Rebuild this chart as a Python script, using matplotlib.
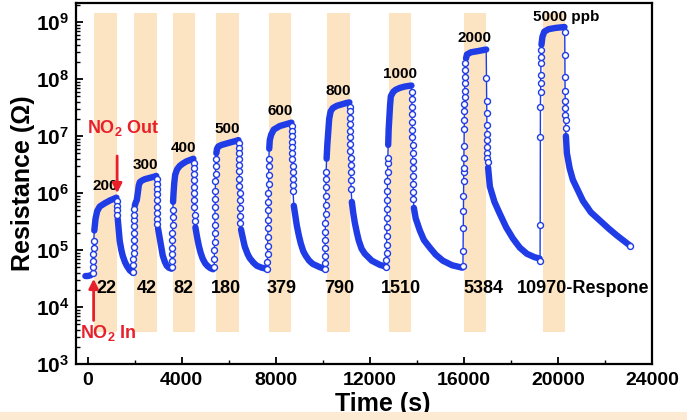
import numpy as np
import matplotlib.pyplot as plt
from matplotlib.ticker import MultipleLocator, LogLocator, FuncFormatter, NullFormatter
from matplotlib.patches import Rectangle

plt.rcParams['font.family'] = ['Liberation Sans', 'DejaVu Sans']
plt.rcParams['font.weight'] = 'bold'
plt.rcParams['mathtext.fontset'] = 'custom'
plt.rcParams['mathtext.rm'] = 'Liberation Sans:bold'
plt.rcParams['mathtext.it'] = 'Liberation Sans:bold'
plt.rcParams['mathtext.bf'] = 'Liberation Sans:bold'
plt.rcParams['mathtext.default'] = 'rm'

# NO2 on / off windows (s)
gas_on = [250, 1960, 3620, 5450, 7700, 10170, 12810, 16000, 19360]
gas_off = [1230, 2940, 4550, 6425, 8640, 11150, 13745, 16940, 20300]
conc_ppb = ['200', '300', '400', '500', '600', '800', '1000', '2000', '5000 ppb']
response = ['22', '42', '82', '180', '379', '790', '1510', '5384', '10970-Respone']

# points taken during the fast switching steps (sparse circles)
step_t = [230, 235, 240, 245, 250, 255,
          1230, 1236, 1242, 1248,
          1935, 1940, 1945, 1950, 1955, 1960, 1965, 1970, 1975, 1980, 1985,
          2925, 2930, 2935, 2940, 2945, 2950, 2955, 2960, 2965,
          3580, 3585, 3590, 3595, 3600, 3605, 3610, 3615, 3620,
          4505, 4510, 4515, 4520, 4525, 4530, 4535, 4540, 4545, 4550,
          5380, 5385, 5390, 5395, 5400, 5405, 5410, 5415, 5420, 5425, 5430, 5435, 5440, 5445,
          6420, 6425, 6430, 6435, 6440, 6445, 6450, 6455, 6460, 6465, 6470, 6475, 6480,
          7640, 7645, 7650, 7655, 7660, 7665, 7670, 7675, 7680, 7685, 7690, 7695, 7700, 7705,
          8675, 8680, 8685, 8690, 8695, 8700, 8705, 8710, 8715, 8720, 8725, 8730,
          10080, 10085, 10090, 10095, 10100, 10105, 10110, 10115, 10120, 10125, 10130, 10135, 10140,
          11140, 11145, 11150, 11155, 11160, 11165, 11170, 11175, 11180, 11185, 11190, 11195, 11200,
          12700, 12705, 12710, 12715, 12720, 12725, 12730, 12735, 12740, 12745, 12750, 12755, 12760, 12765,
          13780, 13785, 13790, 13795, 13800, 13805, 13810, 13815, 13820, 13825, 13830, 13835, 13840, 13845, 13850,
          15960, 15965, 15970, 15975, 15980, 15985, 15990, 15995, 16000, 16005,
          16010, 16015, 16020, 16025, 16030, 16035, 16040, 16045, 16050, 16055,
          16960, 16965, 16970, 16975, 16980, 16985, 16990, 16995, 17000, 17005,
          19240, 19245, 19250, 19255, 19260, 19265, 19270, 19275, 19280, 19285,
          20290, 20295, 20300, 20305, 20310, 20315, 20320, 20325, 20330]
step_R = [4.0e4, 5.0e4, 6.5e4, 8.5e4, 1.1e5, 1.45e5,
          7.2e5, 6.0e5, 5.0e5, 4.2e5,
          4.2e4, 5.5e4, 7.0e4, 9.0e4, 1.15e5, 1.5e5, 2.0e5, 2.6e5, 3.3e5, 4.2e5, 5.2e5,
          1.75e6, 1.45e6, 1.2e6, 9.5e5, 7.5e5, 5.8e5, 4.5e5, 3.5e5, 2.9e5,
          5.0e4, 6.5e4, 8.5e4, 1.1e5, 1.5e5, 2.0e5, 2.8e5, 3.8e5, 5.0e5,
          3.4e6, 2.8e6, 2.2e6, 1.7e6, 1.3e6, 1.0e6, 7.5e5, 5.6e5, 4.2e5, 3.2e5,
          5.0e4, 7.0e4, 1.0e5, 1.4e5, 2.0e5, 2.8e5, 4.0e5, 5.6e5, 8.0e5, 1.1e6, 1.6e6, 2.2e6, 3.0e6, 3.9e6,
          7.5e6, 6.2e6, 5.0e6, 4.0e6, 3.1e6, 2.4e6, 1.8e6, 1.35e6, 1.0e6, 7.5e5, 5.5e5, 4.0e5, 3.0e5,
          4.7e4, 6.2e4, 8.5e4, 1.2e5, 1.7e5, 2.4e5, 3.4e5, 5.0e5, 7.0e5, 1.0e6, 1.45e6, 2.1e6, 3.0e6, 4.0e6,
          1.5e7, 1.25e7, 1.0e7, 8.0e6, 6.3e6, 5.0e6, 3.9e6, 3.0e6, 2.3e6, 1.8e6, 1.4e6, 1.1e6,
          4.7e4, 6.0e4, 8.0e4, 1.1e5, 1.5e5, 2.1e5, 3.0e5, 4.3e5, 6.2e5, 9.0e5, 1.3e6, 1.8e6, 2.3e6,
          3.3e7, 2.7e7, 2.1e7, 1.6e7, 1.25e7, 9.5e6, 7.2e6, 5.5e6, 4.1e6, 3.1e6, 2.3e6, 1.7e6, 1.2e6,
          5.1e4, 6.8e4, 9.0e4, 1.25e5, 1.75e5, 2.5e5, 3.6e5, 5.2e5, 7.5e5, 1.1e6, 1.6e6, 2.3e6, 3.3e6, 4.2e6,
          6.0e7, 4.5e7, 3.3e7, 2.4e7, 1.75e7, 1.3e7, 9.5e6, 7.0e6, 5.0e6, 3.7e6, 2.7e6, 2.0e6, 1.45e6, 1.05e6, 8.0e5,
          5.3e4, 9.7e4, 2.4e5, 4.9e5, 9.0e5, 1.66e6, 2.3e6, 2.8e6, 4.2e6, 6.8e6,
          1.35e7, 1.9e7, 2.8e7, 3.7e7, 4.8e7, 6.3e7, 8.4e7, 1.07e8, 1.43e8, 1.9e8,
          1.03e8, 4.2e7, 2.5e7, 1.55e7, 1.1e7, 8.4e6, 6.3e6, 5.1e6, 4.2e6, 3.5e6,
          6.5e4, 2.8e5, 9.6e6, 3.2e7, 5.9e7, 8.4e7, 1.16e8, 1.9e8, 2.4e8, 3.2e8,
          6.6e8, 2.6e8, 1.07e8, 6.3e7, 4.2e7, 3.1e7, 2.3e7, 1.9e7, 1.4e7]

# slow response / recovery points (dense part of the trace)
slow_t = [-100, 0, 120,
          280, 330, 400, 510, 720, 940, 1100, 1220,
          1277, 1320, 1360, 1430, 1490, 1580, 1660, 1790, 1915,
          2000, 2040, 2085, 2130, 2170, 2213, 2300, 2425, 2640, 2850, 2915,
          2990, 3064, 3130, 3191, 3280, 3361, 3450, 3560,
          3630, 3650, 3680, 3720, 3800, 3915, 4050, 4200, 4350, 4495,
          4580, 4650, 4723, 4800, 4893, 5000, 5106, 5220, 5330,
          5470, 5500, 5560, 5700, 5900, 6100, 6300, 6410,
          6520, 6600, 6680, 6800, 6893, 7050, 7191, 7400, 7600,
          7720, 7744, 7800, 7914, 8170, 8400, 8665,
          8765, 8830, 8893, 8980, 9063, 9170, 9276, 9420, 9574, 9872, 10060,
          10160, 10190, 10230, 10270, 10330, 10425, 10600, 10800, 11000, 11130,
          11233, 11300, 11361, 11450, 11531, 11650, 11786, 12084, 12425, 12690,
          12780, 12800, 12830, 12860, 12893, 13000, 13100, 13276, 13488, 13770,
          13871, 13950, 14127, 14300, 14552, 14800, 15106, 15500, 15930,
          16090, 16130, 16300, 16600, 16950,
          17030, 17105, 17300, 17531, 17800, 18084, 18380, 18680, 19000, 19220,
          19300, 19340, 19420, 19600, 19900, 20280,
          20339, 20382, 20500, 20637, 21063, 21400, 21786, 22150, 22509, 23062]
slow_R = [3.5e4, 3.5e4, 3.6e4,
          2.2e5, 3.5e5, 4.8e5, 5.8e5, 6.6e5, 7.4e5, 7.9e5, 8.3e5,
          3.5e5, 2.2e5, 1.45e5, 1.0e5, 7.9e4, 6.2e4, 5.3e4, 4.4e4, 4.0e4,
          6.0e5, 6.8e5, 7.5e5, 1.0e6, 1.35e6, 1.55e6, 1.65e6, 1.75e6, 1.85e6, 1.95e6, 2.0e6,
          2.4e5, 1.6e5, 1.1e5, 8.0e4, 6.2e4, 5.3e4, 4.9e4, 4.7e4,
          7.0e5, 1.0e6, 1.5e6, 2.1e6, 2.6e6, 3.0e6, 3.3e6, 3.6e6, 3.8e6, 4.0e6,
          2.5e5, 1.7e5, 1.2e5, 9.0e4, 7.0e4, 5.8e4, 5.2e4, 4.8e4, 4.6e4,
          5.0e6, 6.0e6, 6.6e6, 7.0e6, 7.4e6, 7.8e6, 8.2e6, 8.5e6,
          2.3e5, 1.6e5, 1.15e5, 8.5e4, 7.2e4, 6.0e4, 5.3e4, 4.9e4, 4.7e4,
          6.0e6, 8.5e6, 1.05e7, 1.3e7, 1.5e7, 1.6e7, 1.72e7,
          6.0e5, 4.0e5, 2.7e5, 1.8e5, 1.3e5, 9.5e4, 7.9e4, 6.5e4, 5.7e4, 5.0e4, 4.7e4,
          4.0e6, 7.0e6, 1.2e7, 2.0e7, 2.7e7, 3.1e7, 3.4e7, 3.6e7, 3.8e7, 3.9e7,
          7.0e5, 4.3e5, 3.0e5, 2.0e5, 1.45e5, 1.05e5, 8.6e4, 6.5e4, 5.5e4, 5.1e4,
          7.0e6, 1.3e7, 2.2e7, 3.5e7, 5.0e7, 6.0e7, 6.5e7, 7.0e7, 7.4e7, 7.7e7,
          5.5e5, 3.6e5, 2.2e5, 1.5e5, 1.1e5, 8.3e4, 6.5e4, 5.4e4, 4.9e4,
          2.3e8, 2.7e8, 2.95e8, 3.1e8, 3.3e8,
          2.8e6, 1.3e6, 7.0e5, 4.3e5, 2.5e5, 1.6e5, 1.1e5, 8.6e4, 7.5e4, 7.1e4,
          4.0e8, 5.5e8, 6.8e8, 7.5e8, 7.9e8, 8.2e8,
          1.0e7, 5.0e6, 2.7e6, 1.7e6, 7.3e5, 4.6e5, 3.3e5, 2.4e5, 1.8e5, 1.2e5]

blue = '#1F3CE6'
red = '#E8202A'
band_color = '#FCE3C2'

# merge into one trace, ordered in time
t_all = np.concatenate([step_t, slow_t]).astype(float)
R_all = np.concatenate([step_R, slow_R]).astype(float)
is_step = np.r_[np.ones(len(step_t), bool), np.zeros(len(slow_t), bool)]
order = np.argsort(t_all, kind='stable')
t_all, R_all, is_step = t_all[order], R_all[order], is_step[order]
R_thick = R_all.copy()
R_thick[is_step] = np.nan

fig = plt.figure(figsize=(6.87, 4.2), dpi=100)
ax = fig.add_axes([0.1106, 0.1333, 0.8384, 0.8595])
ax.set_yscale('log')

for on, off in zip(gas_on, gas_off):
    ax.axvspan(on, off, ymin=0.089, ymax=0.972, color=band_color, lw=0, zorder=0)

ax.plot(t_all, R_all, color=blue, lw=1.0, zorder=2)
ax.plot(t_all, R_thick, color=blue, lw=4.6, solid_capstyle='round', zorder=2)
ax.plot(step_t, step_R, 'o', ms=4.3, mfc='white', mec=blue, mew=1.0, zorder=3)
ax.plot(slow_t[-1:], slow_R[-1:], 'o', ms=4.3, mfc='white', mec=blue, mew=1.0, zorder=3)

# concentration labels above each peak
for i, (on, off, lab) in enumerate(zip(gas_on, gas_off, conc_ppb)):
    win = (t_all >= on - 300) & (t_all <= off + 100)
    peak = R_all[win].max()
    xc = (on + off) / 2
    if i == len(conc_ppb) - 1:
        ax.annotate(lab, (xc, peak), xytext=(-15, 2), textcoords='offset points',
                    ha='left', va='bottom', fontsize=11, fontweight='bold')
    else:
        ax.annotate(lab, (xc, peak), xytext=(0, 3), textcoords='offset points',
                    ha='center', va='bottom', fontsize=11, fontweight='bold')

# response values under the baseline
resp_dx = [1, 1, 0, -1, 1, 1, 1, 6, -27]
for on, off, lab, dx in zip(gas_on, gas_off, response, resp_dx):
    xc = (on + off) / 2
    ax.annotate(lab, (xc, 2.1e4), xytext=(dx, 0), textcoords='offset points',
                ha='left' if lab.endswith('Respone') else 'center', va='center',
                fontsize=13, fontweight='bold')

# gas in / out arrows
ax.annotate('', xy=(gas_off[0] + 20, 8.9e5), xytext=(gas_off[0] + 20, 5.0e6),
            arrowprops=dict(arrowstyle='-|>', color=red, lw=2, mutation_scale=14))
ax.text(gas_off[0] + 300, 1.4e7, r'NO$_2$ Out', color=red, fontsize=13,
        fontweight='bold', ha='center', va='center')
ax.annotate('', xy=(gas_on[0], 3.5e4), xytext=(gas_on[0], 5.2e3),
            arrowprops=dict(arrowstyle='-|>', color=red, lw=2, mutation_scale=14))
ax.text(gas_on[0] + 640, 3.5e3, r'NO$_2$ In', color=red, fontsize=13,
        fontweight='bold', ha='center', va='center')

ax.set_xlim(-500, 24000)
ax.set_ylim(1e3, 2.16e9)
ax.xaxis.set_major_locator(MultipleLocator(4000))
ax.xaxis.set_minor_locator(MultipleLocator(2000))
ax.yaxis.set_major_locator(LogLocator(base=10, numticks=20))
ax.yaxis.set_minor_locator(LogLocator(base=10, subs=np.arange(2, 10), numticks=100))
ax.yaxis.set_minor_formatter(NullFormatter())
ax.yaxis.set_major_formatter(FuncFormatter(lambda v, p: r'$10^{%d}$' % round(np.log10(v))))

ax.tick_params(which='major', direction='in', length=5, width=1.3, labelsize=14, pad=6,
               top=False, right=False)
ax.tick_params(which='minor', direction='in', length=3, width=1.0, top=False, right=False)
ax.tick_params(axis='y', which='major', labelsize=15, pad=5)
for s in ax.spines.values():
    s.set_linewidth(1.6)

ax.set_xlabel('Time (s)', fontsize=18, fontweight='bold')
ax.xaxis.set_label_coords(0.533, -0.111)
ax.xaxis.label.set_va('center')
ax.set_ylabel('Resistance (\u03a9)', fontsize=18, fontweight='bold')
ax.yaxis.set_label_coords(-0.092, 0.5)
ax.yaxis.label.set_va('center')

# light strip along the bottom edge of the picture
fig.add_artist(Rectangle((0, 0), 1, 8 / 420, transform=fig.transFigure,
                         color='#FDEAD2', lw=0, zorder=10))

fig.savefig('out.png', dpi=100)
